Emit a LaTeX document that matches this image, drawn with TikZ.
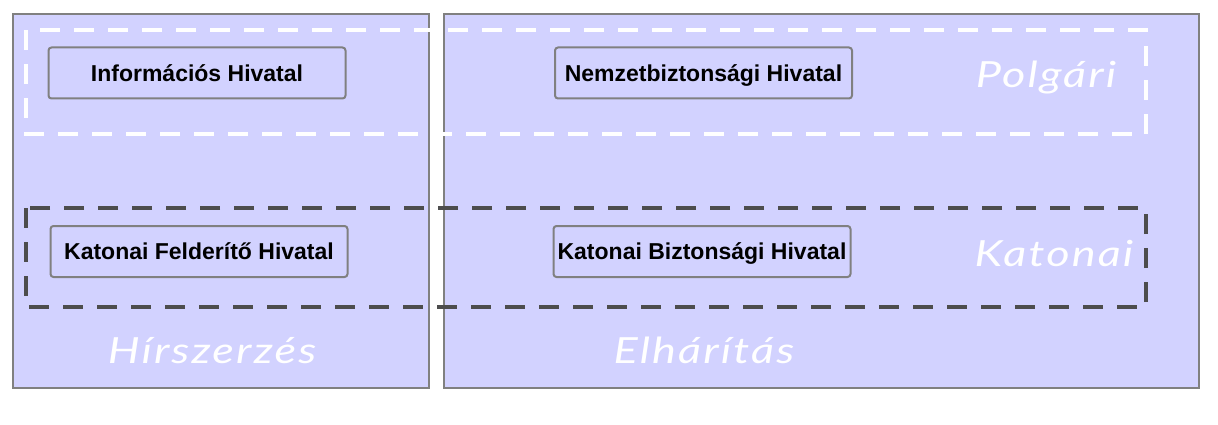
\documentclass[tikz,border=0pt]{standalone}
\usepackage{fontspec}
\setmainfont{Liberation Sans}
\newfontfamily\handfont{Lato}[FakeStretch=1.25,LetterSpace=6]
\definecolor{panelfill}{RGB}{210,210,255}
\definecolor{panelborder}{RGB}{128,128,128}
\definecolor{darkdash}{RGB}{77,77,77}
\begin{document}
\begin{tikzpicture}[x=1pt,y=-1pt,
  panel/.style={draw=panelborder,line width=2.5pt,fill=panelfill},
  agency/.style={draw=panelborder,line width=2pt,fill=panelfill,rounded corners=3pt,
    minimum width=297pt,minimum height=51pt,inner sep=0pt,
    text height=16.5pt,text depth=0pt,
    font=\fontsize{23}{26}\selectfont\bfseries,text=black},
  groupbox/.style={line width=4pt,dash pattern=on 20pt off 14pt},
  handlabel/.style={font=\handfont\itshape\fontsize{36}{40}\selectfont,text=white,inner sep=0pt}]
\useasboundingbox (0,0) rectangle (1218,425);
\fill[white] (0,0) rectangle (1218,425);
% panels
\draw[panel] (13,14) rectangle (429,388);
\draw[panel] (444,14) rectangle (1199,388);
% group frames
\draw[groupbox,white] (26,30) rectangle (1146,134);
\draw[groupbox,darkdash] (26,208) rectangle (1146,307);
% agencies
\node[agency] (ih) at (197,73) {Információs Hivatal};
\node[agency] (nh) at (703.5,73) {Nemzetbiztonsági Hivatal};
\node[agency] (kfh) at (199,251.5) {Katonai Felderítő Hivatal};
\node[agency] (kbh) at (702,251.5) {Katonai Biztonsági Hivatal};
% labels
\node[handlabel,anchor=base] (polg) at (1046,88) {Polgári};
\node[handlabel,anchor=base] (kat) at (1054,266) {Katonai};
\node[handlabel,anchor=base] (hir) at (212,363) {Hírszerzés};
\node[handlabel,anchor=base] (elh) at (704,363) {Elhárítás};
\end{tikzpicture}
\end{document}
